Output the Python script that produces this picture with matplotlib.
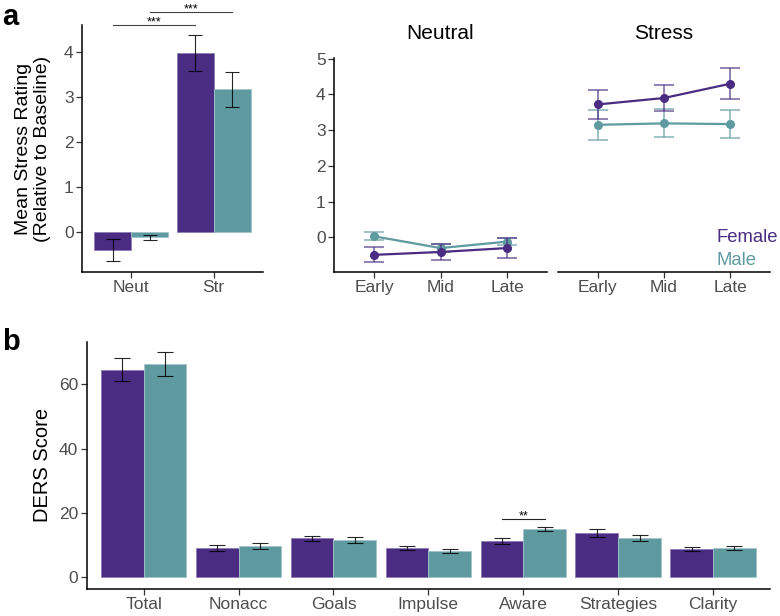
import numpy as np
import matplotlib
matplotlib.use("Agg")
import matplotlib.pyplot as plt

plt.rcParams['font.family'] = ['Liberation Sans', 'DejaVu Sans']

PURPLE = '#4A2C82'
TEAL = '#5F9AA0'
TICK_COL = '#4D4D4D'

# panel a (bars): stress rating by condition
conditions = ['Neut', 'Str']
bar_female = [-0.40, 3.98]
bar_female_se = [0.24, 0.395]
bar_male = [-0.12, 3.17]
bar_male_se = [0.06, 0.39]

# panel a (lines): stress rating over time
timepoints = ['Early', 'Mid', 'Late']
neutral_female = [-0.49, -0.41, -0.30]
neutral_female_se = [0.21, 0.22, 0.28]
neutral_male = [0.03, -0.30, -0.12]
neutral_male_se = [0.11, 0.12, 0.10]
stress_female = [3.72, 3.90, 4.30]
stress_female_se = [0.40, 0.37, 0.43]
stress_male = [3.15, 3.19, 3.17]
stress_male_se = [0.42, 0.39, 0.39]

# panel b: DERS scores
subscales = ['Total', 'Nonacc', 'Goals', 'Impulse', 'Aware', 'Strategies', 'Clarity']
ders_female = [64.6, 9.0, 12.05, 9.05, 11.15, 13.75, 8.8]
ders_female_se = [3.6, 0.9, 0.85, 0.75, 0.9, 1.2, 0.6]
ders_male = [66.3, 9.7, 11.7, 8.1, 15.0, 12.1, 8.95]
ders_male_se = [3.65, 0.8, 0.95, 0.55, 0.75, 1.0, 0.65]

W, H = 780, 616
fig = plt.figure(figsize=(W / 100, H / 100), dpi=100)


def px_axes(x0, y0, x1, y1):
    # pixel box (from top-left) -> axes
    return fig.add_axes([x0 / W, 1 - y1 / H, (x1 - x0) / W, (y1 - y0) / H])


def style(ax, left=True):
    for s in ['top', 'right']:
        ax.spines[s].set_visible(False)
    ax.spines['bottom'].set_linewidth(1.1)
    ax.spines['left'].set_linewidth(1.1)
    ax.tick_params(length=4, width=0.9, color='#333333', labelcolor=TICK_COL,
                   labelsize=12.5, pad=2)
    if not left:
        ax.spines['left'].set_visible(False)
        ax.tick_params(axis='y', left=False, labelleft=False)


bw = 0.45

# ---- panel a, bars
ax1 = px_axes(82, 25, 263, 272)
x = np.arange(1, len(conditions) + 1)
ax1.bar(x - bw / 2, bar_female, bw, color=PURPLE, edgecolor='#8E7DB5', linewidth=0.6)
ax1.bar(x + bw / 2, bar_male, bw, color=TEAL, edgecolor='#A3C6CA', linewidth=0.6)
ax1.errorbar(x - bw / 2, bar_female, yerr=bar_female_se, fmt='none', ecolor='black',
             elinewidth=0.8, capsize=4.7, capthick=0.8, alpha=0.85)
ax1.errorbar(x + bw / 2, bar_male, yerr=bar_male_se, fmt='none', ecolor='black',
             elinewidth=0.8, capsize=4.7, capthick=0.8, alpha=0.85)
ax1.set_xlim(0.4, 2.6)
ax1.set_ylim(-0.89, 4.6)
ax1.set_xticks(x)
ax1.set_xticklabels(conditions)
ax1.set_yticks([0, 1, 2, 3, 4])
style(ax1)
# significance brackets
ax1.plot([1 - bw / 2, 2 - bw / 2], [4.6, 4.6], color='#444444', lw=0.8, clip_on=False)
ax1.text(1.275, 4.6, '***', ha='center', va='baseline', fontsize=9, clip_on=False)
ax1.plot([1 + bw / 2, 2 + bw / 2], [4.89, 4.89], color='#444444', lw=0.8, clip_on=False)
ax1.text(1.725, 4.89, '***', ha='center', va='baseline', fontsize=9, clip_on=False)
fig.text(33 / W, 1 - 148.5 / H, 'Mean Stress Rating\n(Relative to Baseline)',
         rotation=90, ha='center', va='center', multialignment='center', fontsize=14)

# ---- panel a, lines (two facets)
facets = [
    ('Neutral', neutral_female, neutral_female_se, neutral_male, neutral_male_se, (334, 547)),
    ('Stress', stress_female, stress_female_se, stress_male, stress_male_se, (558, 770)),
]
tx = np.arange(1, len(timepoints) + 1)
for i, (title, fm, fse, mm, mse, (x0, x1)) in enumerate(facets):
    ax = px_axes(x0, 58, x1, 272)
    for m, se, c in [(mm, mse, TEAL), (fm, fse, PURPLE)]:
        ax.errorbar(tx, m, yerr=se, fmt='none', ecolor=c, elinewidth=1.2,
                    capsize=7.4, capthick=1.2, alpha=0.7)
        ax.plot(tx, m, color=c, lw=1.6, marker='o', ms=5.5)
    ax.set_xlim(0.4, 3.6)
    ax.set_ylim(-0.97, 5.02)
    ax.set_xticks(tx)
    ax.set_xticklabels(timepoints)
    ax.set_yticks([0, 1, 2, 3, 4, 5])
    style(ax, left=(i == 0))
    ax.set_title(title, fontsize=15, pad=14)
    if i == 1:
        fig.text(716 / W, 1 - 242 / H, 'Female', color=PURPLE, fontsize=13.3, va='baseline')
        fig.text(716 / W, 1 - 265 / H, 'Male', color=TEAL, fontsize=13.3, va='baseline')

# ---- panel b
ax3 = px_axes(86.7, 341.7, 770, 588.7)
xb = np.arange(1, len(subscales) + 1)
ax3.bar(xb - bw / 2, ders_female, bw, color=PURPLE, edgecolor='#8E7DB5', linewidth=0.6)
ax3.bar(xb + bw / 2, ders_male, bw, color=TEAL, edgecolor='#A3C6CA', linewidth=0.6)
ax3.errorbar(xb - bw / 2, ders_female, yerr=ders_female_se, fmt='none', ecolor='black',
             elinewidth=0.8, capsize=6, capthick=0.8, alpha=0.85)
ax3.errorbar(xb + bw / 2, ders_male, yerr=ders_male_se, fmt='none', ecolor='black',
             elinewidth=0.8, capsize=6, capthick=0.8, alpha=0.85)
ax3.set_xlim(0.4, 7.6)
ax3.set_ylim(-3.6, 73.3)
ax3.set_xticks(xb)
ax3.set_xticklabels(subscales)
ax3.set_yticks([0, 20, 40, 60])
style(ax3)
ax3.plot([5 - bw / 2, 5 + bw / 2], [18, 18], color='#222222', lw=0.8)
ax3.text(5, 18, '**', ha='center', va='baseline', fontsize=9)
fig.text(42 / W, 1 - 465 / H, 'DERS Score', rotation=90, ha='center', va='center',
         fontsize=14.5)

# panel letters
fig.text(2 / W, 1 - 25 / H, 'a', fontsize=21, fontweight='bold', va='baseline')
fig.text(2 / W, 1 - 350 / H, 'b', fontsize=21, fontweight='bold', va='baseline')

fig.savefig('out.png', dpi=100)
